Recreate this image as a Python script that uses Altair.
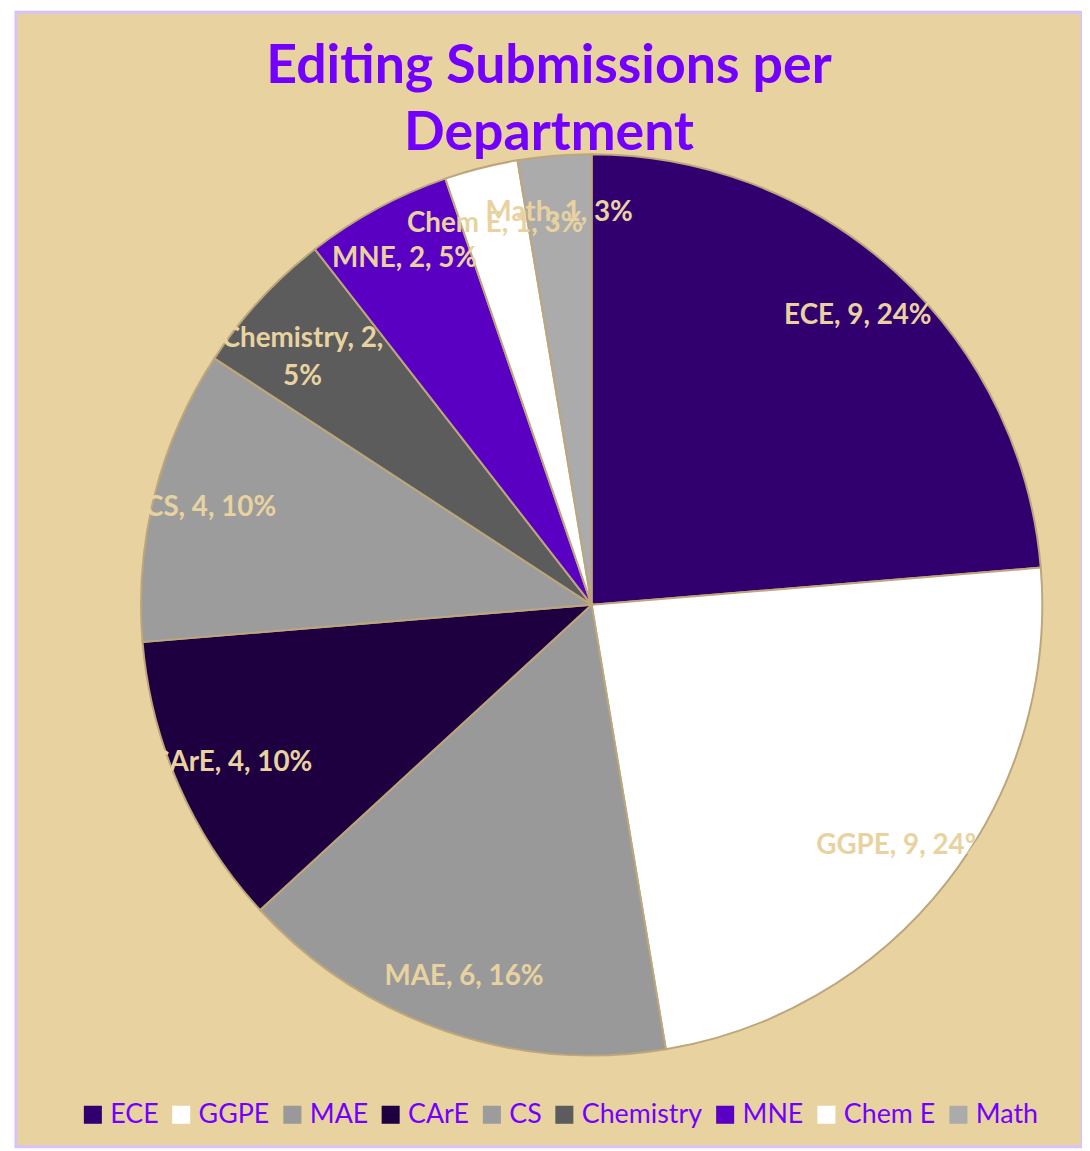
import altair as alt
import pandas as pd

departments = ["ECE", "GGPE", "MAE", "CArE", "CS", "Chemistry", "MNE", "Chem E", "Math"]
submissions = [9, 9, 6, 4, 4, 2, 2, 1, 1]
percents = [24, 24, 16, 10, 10, 5, 5, 3, 3]
colors = ["#32006e", "#ffffff", "#999999", "#1e0040", "#9c9c9c",
          "#5c5c5c", "#5a00c2", "#ffffff", "#ababab"]

labels = []
for d, n, p in zip(departments, submissions, percents):
    if d == "Chemistry":
        labels.append(f"{d}, {n},\n{p}%")
    else:
        labels.append(f"{d}, {n}, {p}%")

df = pd.DataFrame({
    "dept": departments,
    "n": submissions,
    "label": labels,
    "order": list(range(len(departments))),
})

FONT = "Lato"
CX, CY = 580, 597

base = alt.Chart(df).encode(
    theta=alt.Theta("n:Q", stack=True),
    order=alt.Order("order:Q"),
)

arcs = base.mark_arc(outerRadius=454, stroke="#bda67c", strokeWidth=2).encode(
    color=alt.Color(
        "dept:N",
        scale=alt.Scale(domain=departments, range=colors),
        sort=departments,
        legend=alt.Legend(
            orient="none", direction="horizontal", columns=9,
            legendX=64, legendY=1097, padding=0,
            title=None, symbolType="square", symbolSize=330,
            symbolStrokeWidth=0, labelFontSize=27, labelFont=FONT,
            labelColor="#7300ff", labelOffset=4, columnPadding=9,
        ),
    ),
    x=alt.value(CX),
    y=alt.value(CY),
)

text = base.mark_text(
    radius=396, fontSize=28, fontWeight="bold", font=FONT,
    color="#e8d3a0", lineBreak="\n", lineHeight=39,
).encode(
    text="label:N",
    x=alt.value(CX),
    y=alt.value(CY),
)

chart = alt.layer(arcs, text).properties(
    width=1074,
    height=1143,
    autosize=alt.AutoSizeParams(type="none"),
    padding={"left": 8, "top": 0, "right": 0, "bottom": 0},
    title=alt.Title(
        ["Editing Submissions per", "Department"],
        fontSize=54, font=FONT, fontWeight="bold", color="#7300ff",
        anchor="middle", frame="group", offset=0, dy=150, lineHeight=68,
    ),
).configure_view(
    fill="#e8d3a0", stroke="#d8c2fc", strokeWidth=3,
)

chart.save("out.html", embed_options={"renderer": "svg", "actions": False})
